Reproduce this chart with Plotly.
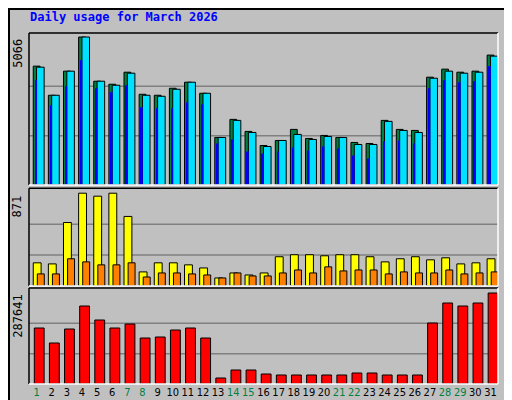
import plotly.graph_objects as go

days = list(range(1, 32))
weekend = [1, 7, 8, 14, 15, 21, 22, 28, 29]

hits = [4069, 3072, 3897, 5066, 3553, 3450, 3862, 3106, 3072, 3312, 3519, 3140, 1628, 2246, 1834, 1352,
        1524, 1903, 1593, 1696, 1628, 1456, 1421, 2212, 1903, 1868, 3691, 3966, 3862, 3897, 4447]
files = [4034, 3072, 3897, 5066, 3553, 3415, 3828, 3072, 3037, 3278, 3519, 3140, 1628, 2212, 1799, 1318,
         1524, 1731, 1559, 1662, 1628, 1387, 1387, 2178, 1868, 1799, 3656, 3897, 3828, 3862, 4412]
pages = [3599, 2728, 3381, 4275, 3312, 3175, 3415, 2659, 2624, 2624, 2831, 2762, 1421, 1559, 1146, 1077,
         1146, 1284, 1180, 1318, 1249, 1009, 905, 1490, 1524, 1421, 3312, 3587, 3519, 3553, 4069]
visits = [218, 208, 596, 871, 843, 871, 653, 133, 218, 218, 199, 170, 76, 123, 104, 123,
          275, 294, 294, 284, 294, 294, 275, 227, 256, 275, 246, 265, 208, 218, 256]
sites = [114, 114, 256, 227, 199, 199, 218, 85, 123, 123, 114, 104, 76, 123, 95, 95,
         123, 151, 123, 180, 142, 151, 151, 114, 133, 123, 123, 151, 114, 123, 133]
kbytes = [177005, 129593, 173844, 246542, 202291, 177005, 189648, 145397, 148558, 170683, 177005, 145397,
          18965, 44251, 44251, 31608, 28447, 28447, 28447, 28447, 28447, 34769, 34769, 28447, 28447, 28447,
          192809, 256025, 246542, 256025, 287641]

BG = "#C0C0C0"
line = dict(color="black", width=1)

fig = go.Figure()
# top panel
fig.add_trace(go.Bar(x=days, y=hits, offset=-0.22, width=0.45, marker=dict(color="#008040", line=line), yaxis="y"))
fig.add_trace(go.Bar(x=days, y=files, offset=0.0, width=0.5, marker=dict(color="#00E0FF", line=line), yaxis="y"))
fig.add_trace(go.Bar(x=days, y=pages, offset=-0.1, width=0.12, marker=dict(color="#0000FF", line=dict(width=0)), yaxis="y"))
# middle panel
fig.add_trace(go.Bar(x=days, y=visits, offset=-0.22, width=0.52, marker=dict(color="#FFFF00", line=line), yaxis="y2"))
fig.add_trace(go.Bar(x=days, y=sites, offset=0.05, width=0.46, marker=dict(color="#FF8000", line=line), yaxis="y2"))
# bottom panel
fig.add_trace(go.Bar(x=days, y=kbytes, offset=-0.15, width=0.65, marker=dict(color="#FF0000", line=line), yaxis="y3"))

ticktext = [f"<span style='color:#008040'>{d}</span>" if d in weekend else str(d) for d in days]

panels = [("y", "yaxis", max(hits), [0.567, 1.0], 151 / 147),
          ("y2", "yaxis2", max(visits), [0.279, 0.558], 97 / 92),
          ("y3", "yaxis3", max(kbytes), [0.0, 0.2735], 96 / 91)]

shapes = []
annotations = []
for ref, name, mx, dom, pad in panels:
    fig.update_layout({name: dict(domain=dom, range=[0, mx * pad], showgrid=False, showticklabels=False,
                                  zeroline=False, fixedrange=True, automargin=False)})
    for frac in (1 / 3, 2 / 3):
        shapes.append(dict(type="line", xref="x domain", yref=ref, x0=0, x1=1, y0=mx * frac, y1=mx * frac,
                           line=dict(color="#808080", width=1.5), layer="below"))
    d = ref + " domain"
    shapes += [
        dict(type="line", xref="x domain", yref=d, x0=0, x1=1, y0=1, y1=1, line=dict(color="black", width=1.5)),
        dict(type="line", xref="x domain", yref=d, x0=0, x1=0, y0=0, y1=1, line=dict(color="black", width=1.5)),
        dict(type="line", xref="x domain", yref=d, x0=0, x1=1, y0=0, y1=0, line=dict(color="white", width=1.5)),
        dict(type="line", xref="x domain", yref=d, x0=1, x1=1, y0=0, y1=1, line=dict(color="white", width=1.5)),
    ]
    annotations.append(dict(text=f"{mx}", xref="paper", yref=ref, x=-0.006, y=mx, xanchor="right", yanchor="top",
                            textangle=-90, showarrow=False, font=dict(size=12, color="black")))

mono = "DejaVu Sans Mono"
annotations += [
    dict(text="<span style='color:#00C0E0'>Pages</span> / <span style='color:#0080FF'>Files</span> / "
              "<span style='color:#008060'>Hits</span>",
         xref="paper", yref="paper", x=1.006, y=0.985, xanchor="left", yanchor="top", textangle=-90,
         showarrow=False, font=dict(family=mono, size=11, color="#404040")),
    dict(text="<span style='color:#FF8000'>Sites</span> / <span style='color:#FFFF00'>Visits</span>",
         xref="paper", yref="paper", x=1.006, y=0.55, xanchor="left", yanchor="top", textangle=-90,
         showarrow=False, font=dict(family=mono, size=11, color="#404040")),
    dict(text="KBytes", xref="paper", yref="paper", x=1.006, y=0.0, xanchor="left", yanchor="bottom",
         textangle=-90, showarrow=False, font=dict(family=mono, size=11, color="#FF0000")),
    dict(text="<b>Daily usage for March 2026</b>", xref="paper", yref="paper", x=-0.002, y=1.045,
         xanchor="left", yanchor="middle", showarrow=False, font=dict(family=mono, size=12, color="#0000FF")),
]

# outer frame
shapes += [
    dict(type="rect", xref="paper", yref="paper", x0=-20 / 469, x1=1 + 21 / 469, y0=-23 / 351, y1=1 + 24 / 351,
         line=dict(color="black", width=2), layer="below"),
    dict(type="line", xref="paper", yref="paper", x0=1 + 19 / 469, x1=1 + 19 / 469, y0=-21 / 351, y1=1 + 22 / 351,
         line=dict(color="#808080", width=4), layer="below"),
    dict(type="line", xref="paper", yref="paper", x0=-19 / 469, x1=1 + 19 / 469, y0=-21 / 351, y1=-21 / 351,
         line=dict(color="#808080", width=4), layer="below"),
]

fig.update_layout(
    width=512, height=400, margin=dict(l=21, r=22, t=25, b=24, autoexpand=False),
    paper_bgcolor=BG, plot_bgcolor=BG, showlegend=False, barmode="overlay",
    font=dict(family=mono, size=11, color="black"),
    xaxis=dict(range=[0.5, 31.5], tickvals=days, ticktext=ticktext, showgrid=False, zeroline=False,
               ticks="", tickangle=0, tickfont=dict(family="DejaVu Sans Condensed", size=11),
               anchor="y3", fixedrange=True, automargin=False),
    shapes=shapes, annotations=annotations,
)

fig.write_html("out.html")
